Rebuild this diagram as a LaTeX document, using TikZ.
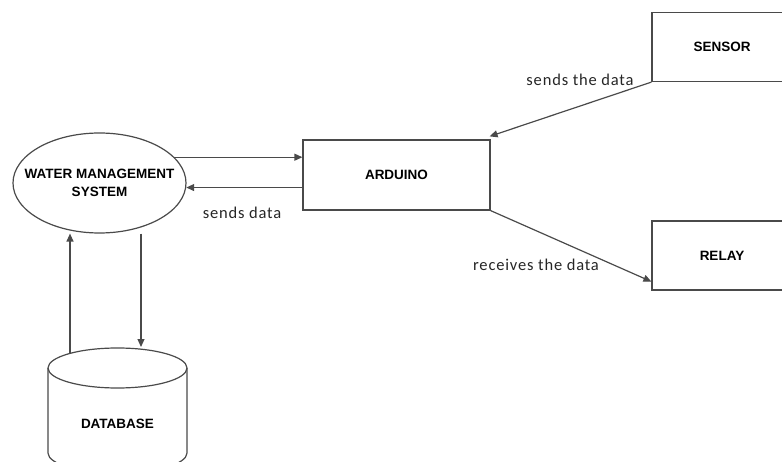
\documentclass[tikz,border=0pt]{standalone}
\usepackage{fontspec}
\setmainfont{Liberation Sans}
\newfontfamily\notefont[LetterSpace=5]{Carlito}
\usetikzlibrary{shapes.geometric,arrows.meta}
\definecolor{edgegray}{HTML}{4A4A4A}
\tikzset{x=1pt,y=1pt,
         every node/.style={font=\bfseries\fontsize{13.5}{18}\selectfont},
         line/.style={draw=edgegray,line width=1.2pt},
         block/.style={line,rectangle,inner sep=0pt},
         arr/.style={line,-{Triangle[length=8pt,width=7pt]}},
         note/.style={font=\notefont\fontsize{16.5}{18}\selectfont,text=black!85}}

\begin{document}
\begin{tikzpicture}
  \useasboundingbox (0,0) rectangle (782,461);
  % blocks
  \node[line,ellipse,inner sep=0pt,minimum width=173pt,minimum height=100pt] (wms) at (99.5,278) {};
  \node[align=center] (wmstext) at (wms.center) {WATER MANAGEMENT\\SYSTEM};
  \node[block,minimum width=187pt,minimum height=70pt] (ard) at (396.5,286) {ARDUINO};
  \node[block,minimum width=140pt,minimum height=69pt] (sensor) at (722,414) {SENSOR};
  \node[block,minimum width=140pt,minimum height=69pt] (relay) at (722,205.5) {RELAY};
  % database cylinder
  \draw[line] (48,93) -- (48,8) arc[start angle=180,end angle=360,x radius=69.5,y radius=20] -- (187,93);
  \draw[line] (117.5,93) ellipse [x radius=69.5,y radius=20];
  \node (db) at (117.5,37) {DATABASE};
  \coordinate (dbup) at (70,108);
  \coordinate (dbdown) at (141,114);
  % connectors
  \draw[arr] (wms.19) -- (wms.19 -| ard.west);
  \draw[arr] (ard.west |- wms.-3) -- (wms.-3);
  \draw[arr] (sensor.south west) -- ([xshift=-1pt,yshift=3pt]ard.north east);
  \draw[arr] (ard.south east) -- ([yshift=9pt]relay.south west);
  \draw[arr] (dbup) -- (dbup |- wms.south);
  \draw[arr] (wms.south -| dbdown) -- (dbdown);
  % labels
  \node[note] (lsens) at (580,381) {sends the data};
  \node[note] (lwms) at (242,248) {sends data};
  \node[note] (lrel) at (536,196) {receives the data};
\end{tikzpicture}
\end{document}
